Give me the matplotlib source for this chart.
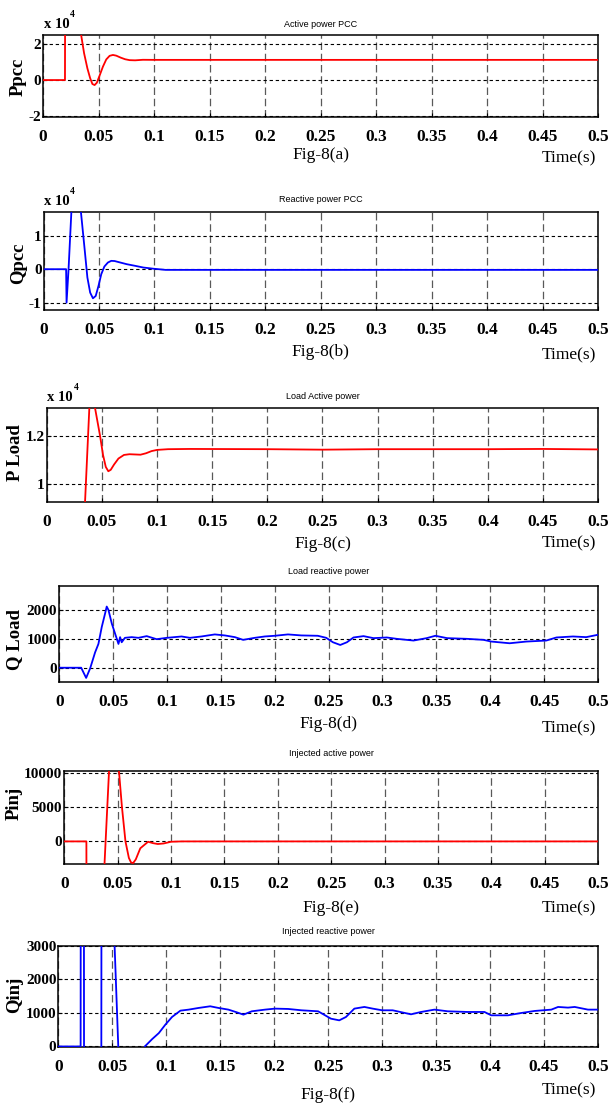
import numpy as np
import matplotlib
matplotlib.use('Agg')
from matplotlib import pyplot as plt

# Fig-8 data, time in seconds, powers in W / VAr
t_a = [0, 0.0198, 0.0199, 0.025, 0.03, 0.0343, 0.037, 0.04, 0.0425, 0.0445, 0.0465, 0.0485,
       0.051, 0.054, 0.057, 0.06, 0.063, 0.066, 0.07, 0.074, 0.078, 0.083, 0.09, 0.1, 0.5]
p_pcc = [0, 0, 35000, 45000, 40000, 25400, 15000, 6500, 1000, -2200, -2800, -1500,
         2500, 7500, 11500, 13500, 14000, 13600, 12500, 11600, 11100, 11000, 11300, 11250, 11250]

t_b = [0, 0.0203, 0.0207, 0.0225, 0.0251, 0.028, 0.031, 0.0337, 0.037, 0.0395, 0.042, 0.0445,
       0.047, 0.0495, 0.052, 0.0548, 0.058, 0.061, 0.064, 0.068, 0.075, 0.0827, 0.09, 0.099,
       0.11, 0.5]
q_pcc = [0, 0, -10000, 0, 17500, 23000, 22500, 17000, 6000, -2500, -7000, -8700,
         -8000, -5000, -1500, 800, 2000, 2500, 2450, 2100, 1500, 1000, 500, 150,
         -200, -200]

t_c = [0, 0.02, 0.0347, 0.0386, 0.041, 0.0437, 0.0483, 0.051, 0.0535, 0.0558, 0.058, 0.061,
       0.065, 0.07, 0.075, 0.08, 0.085, 0.09, 0.095, 0.1, 0.11, 0.13, 0.2, 0.25, 0.3, 0.4,
       0.45, 0.5]
p_load = [0, 0, 9250, 13170, 13600, 13170, 12000, 11200, 10700, 10520, 10580, 10800,
          11050, 11200, 11230, 11220, 11210, 11270, 11360, 11410, 11440, 11450, 11440, 11420,
          11440, 11440, 11450, 11430]

t_d = [0, 0.0204, 0.025, 0.0287, 0.0333, 0.0364, 0.0395, 0.0426, 0.0441, 0.0457, 0.0488, 0.0519,
       0.055, 0.0565, 0.058, 0.061, 0.0673, 0.0735, 0.0812, 0.0904, 0.1, 0.1136, 0.1213, 0.132,
       0.1444, 0.1537, 0.163, 0.1707, 0.1815, 0.1907, 0.2, 0.2123, 0.2247, 0.24, 0.2478, 0.254,
       0.2608, 0.267, 0.2731, 0.2824, 0.2917, 0.304, 0.3133, 0.3288, 0.341, 0.349, 0.36, 0.3784,
       0.3938, 0.401, 0.418, 0.4335, 0.452, 0.4614, 0.4768, 0.489, 0.5]
q_load = [0, 0, -353, -24, 530, 824, 1412, 1880, 2118, 2000, 1530, 1176,
          824, 1059, 882, 1035, 1059, 1035, 1094, 988, 1035, 1082, 1035, 1082,
          1153, 1118, 1059, 965, 1035, 1082, 1106, 1153, 1118, 1106, 1035, 882,
          788, 882, 1047, 1094, 1024, 1047, 1000, 941, 1024, 1106, 1024, 1000,
          965, 906, 847, 906, 941, 1047, 1082, 1059, 1141]

t_e = [0, 0.0207, 0.0208, 0.037, 0.0376, 0.042, 0.045, 0.048, 0.0512, 0.054, 0.0573, 0.0605,
       0.0625, 0.0645, 0.067, 0.0712, 0.0785, 0.083, 0.0876, 0.093, 0.1, 0.11, 0.5]
p_inj = [0, 0, -9000, -9000, -3500, 10500, 14000, 13500, 10200, 5000, 0, -2400,
         -3050, -3150, -2600, -1000, -50, -250, -380, -300, -50, 0, 0]

t_f = [0, 0.0205, 0.0207, 0.0235, 0.0238, 0.0395, 0.0399, 0.049, 0.052, 0.0554, 0.0588, 0.078,
       0.08, 0.0868, 0.093, 0.099, 0.1052, 0.113, 0.1206, 0.1298, 0.1406, 0.1483, 0.1575, 0.1652,
       0.1714, 0.1791, 0.1914, 0.2006, 0.2129, 0.2252, 0.2406, 0.2525, 0.2602, 0.2664, 0.2742,
       0.2835, 0.2912, 0.3, 0.3097, 0.3267, 0.336, 0.3484, 0.3608, 0.3793, 0.3948, 0.401, 0.4165,
       0.4289, 0.4412, 0.4567, 0.463, 0.4722, 0.4784, 0.4907, 0.5]
q_inj = [0, 0, 8000, 8000, -8000, -8000, 8000, 6000, 3000, 0, -3000, -3000,
         0, 220, 400, 650, 880, 1070, 1100, 1150, 1200, 1150, 1100, 1020,
         950, 1050, 1100, 1130, 1120, 1080, 1050, 830, 780, 880, 1130,
         1180, 1130, 1080, 1080, 960, 1030, 1100, 1050, 1030, 1030, 930, 930,
         1000, 1060, 1100, 1180, 1160, 1180, 1100, 1100]

titles = ['Active power PCC', 'Reactive power PCC', 'Load Active power',
          'Load reactive power', 'Injected active power', 'Injected reactive power']
ylabels = ['Ppcc', 'Qpcc', 'P Load', 'Q Load', 'Pinj', 'Qinj']
figlabels = ['Fig-8(a)', 'Fig-8(b)', 'Fig-8(c)', 'Fig-8(d)', 'Fig-8(e)', 'Fig-8(f)']
xticks = [0, 0.05, 0.1, 0.15, 0.2, 0.25, 0.3, 0.35, 0.4, 0.45, 0.5]
xtick_labels = ['0', '0.05', '0.1', '0.15', '0.2', '0.25', '0.3', '0.35', '0.4', '0.45', '0.5']
yticks = [[-2, 0, 2], [-1, 0, 1], [1, 1.2], [0, 1000, 2000], [0, 5000, 10000], [0, 1000, 2000, 3000]]
scales = [1e4, 1e4, 1e4, 1, 1, 1]

series = [(t_a, p_pcc, 'red'), (t_b, q_pcc, 'blue'), (t_c, p_load, 'red'),
          (t_d, q_load, 'blue'), (t_e, p_inj, 'red'), (t_f, q_inj, 'blue')]

# layout in pixels of the 609x1107 picture
W, H = 609.0, 1107.0
RIGHT = 598
# left, top, bottom, ylim
boxes = [(43, 34.5, 117, (-2.06, 2.54)),
         (43.6, 211.7, 310, (-1.22, 1.72)),
         (46.8, 407.7, 501.7, (0.925, 1.317)),
         (59.2, 585.7, 681.7, (-484, 2840)),
         (64.3, 771, 864, (-3280, 10220)),
         (58.5, 946, 1047.3, (-25, 3000))]
title_y = [24.3, 200, 396.7, 571.7, 754, 931.7]
ylab_x = [18.5, 18.5, 15.5, 14.5, 14, 14.5]
ylab_y = [76.7, 263, 453, 640, 803, 995]
fig_y = [155, 352.5, 544, 724, 907.5, 1095]
time_y = [158.3, 355, 543, 728, 908, 1090]

SERIF = 'Liberation Serif'
SANS = 'Liberation Sans'

fig = plt.figure(figsize=(W / 100, H / 100), dpi=100)


def fx(px):
    return px / W


def fy(py):
    return 1 - py / H


for i in range(6):
    left, top, bottom, ylim = boxes[i]
    ax = fig.add_axes([fx(left), fy(bottom), (RIGHT - left) / W, (bottom - top) / H])
    t, v, col = series[i]
    ax.plot(t, np.array(v) / scales[i], color=col, lw=1.3, zorder=3)
    ax.set_xlim(0, 0.5)
    ax.set_ylim(*ylim)
    ax.set_xticks(xticks)
    ax.set_xticklabels(xtick_labels)
    ax.set_yticks(yticks[i])
    ax.set_yticklabels(['%g' % y for y in yticks[i]])
    for lab in ax.get_xticklabels():
        lab.set_fontfamily(SERIF)
        lab.set_fontweight('bold')
        lab.set_fontsize(12.5)
    for lab in ax.get_yticklabels():
        lab.set_fontfamily(SERIF)
        lab.set_fontweight('bold')
        lab.set_fontsize(11)
    ax.tick_params(axis='x', direction='in', length=3, pad=8.5)
    ax.tick_params(axis='y', direction='in', length=3, pad=1.5)
    # long grey dashes for time grid, short black dashes for value grid
    ax.grid(True, axis='x', color='0.35', lw=0.9, linestyle=(0, (6, 3)))
    ax.grid(True, axis='y', color='black', lw=0.8, linestyle=(0, (3, 2.5)))
    for s in ax.spines.values():
        s.set_linewidth(1.1)

    cx = (left + RIGHT) / 2
    fig.text(fx(cx), fy(title_y[i]), titles[i], ha='center', va='center',
             fontsize=6.5, family=SANS)
    fig.text(fx(ylab_x[i]), fy(ylab_y[i]), ylabels[i], ha='center', va='center',
             rotation=90, fontsize=13.5, family=SERIF, fontweight='bold')
    fig.text(fx(cx), fy(fig_y[i]), figlabels[i], ha='center', va='center',
             fontsize=12.5, family=SERIF)
    fig.text(fx(596), fy(time_y[i]), 'Time(s)', ha='right', va='center',
             fontsize=12.5, family=SERIF)

    if scales[i] != 1:
        xl = left + 0.6
        fig.text(fx(xl), fy(top - 10), 'x 10', ha='left', va='center',
                 fontsize=10.5, family=SERIF, fontweight='bold')
        fig.text(fx(xl + 26), fy(top - 20), '4', ha='left', va='center',
                 fontsize=7, family=SERIF, fontweight='bold')

plt.savefig('out.png', dpi=100)
